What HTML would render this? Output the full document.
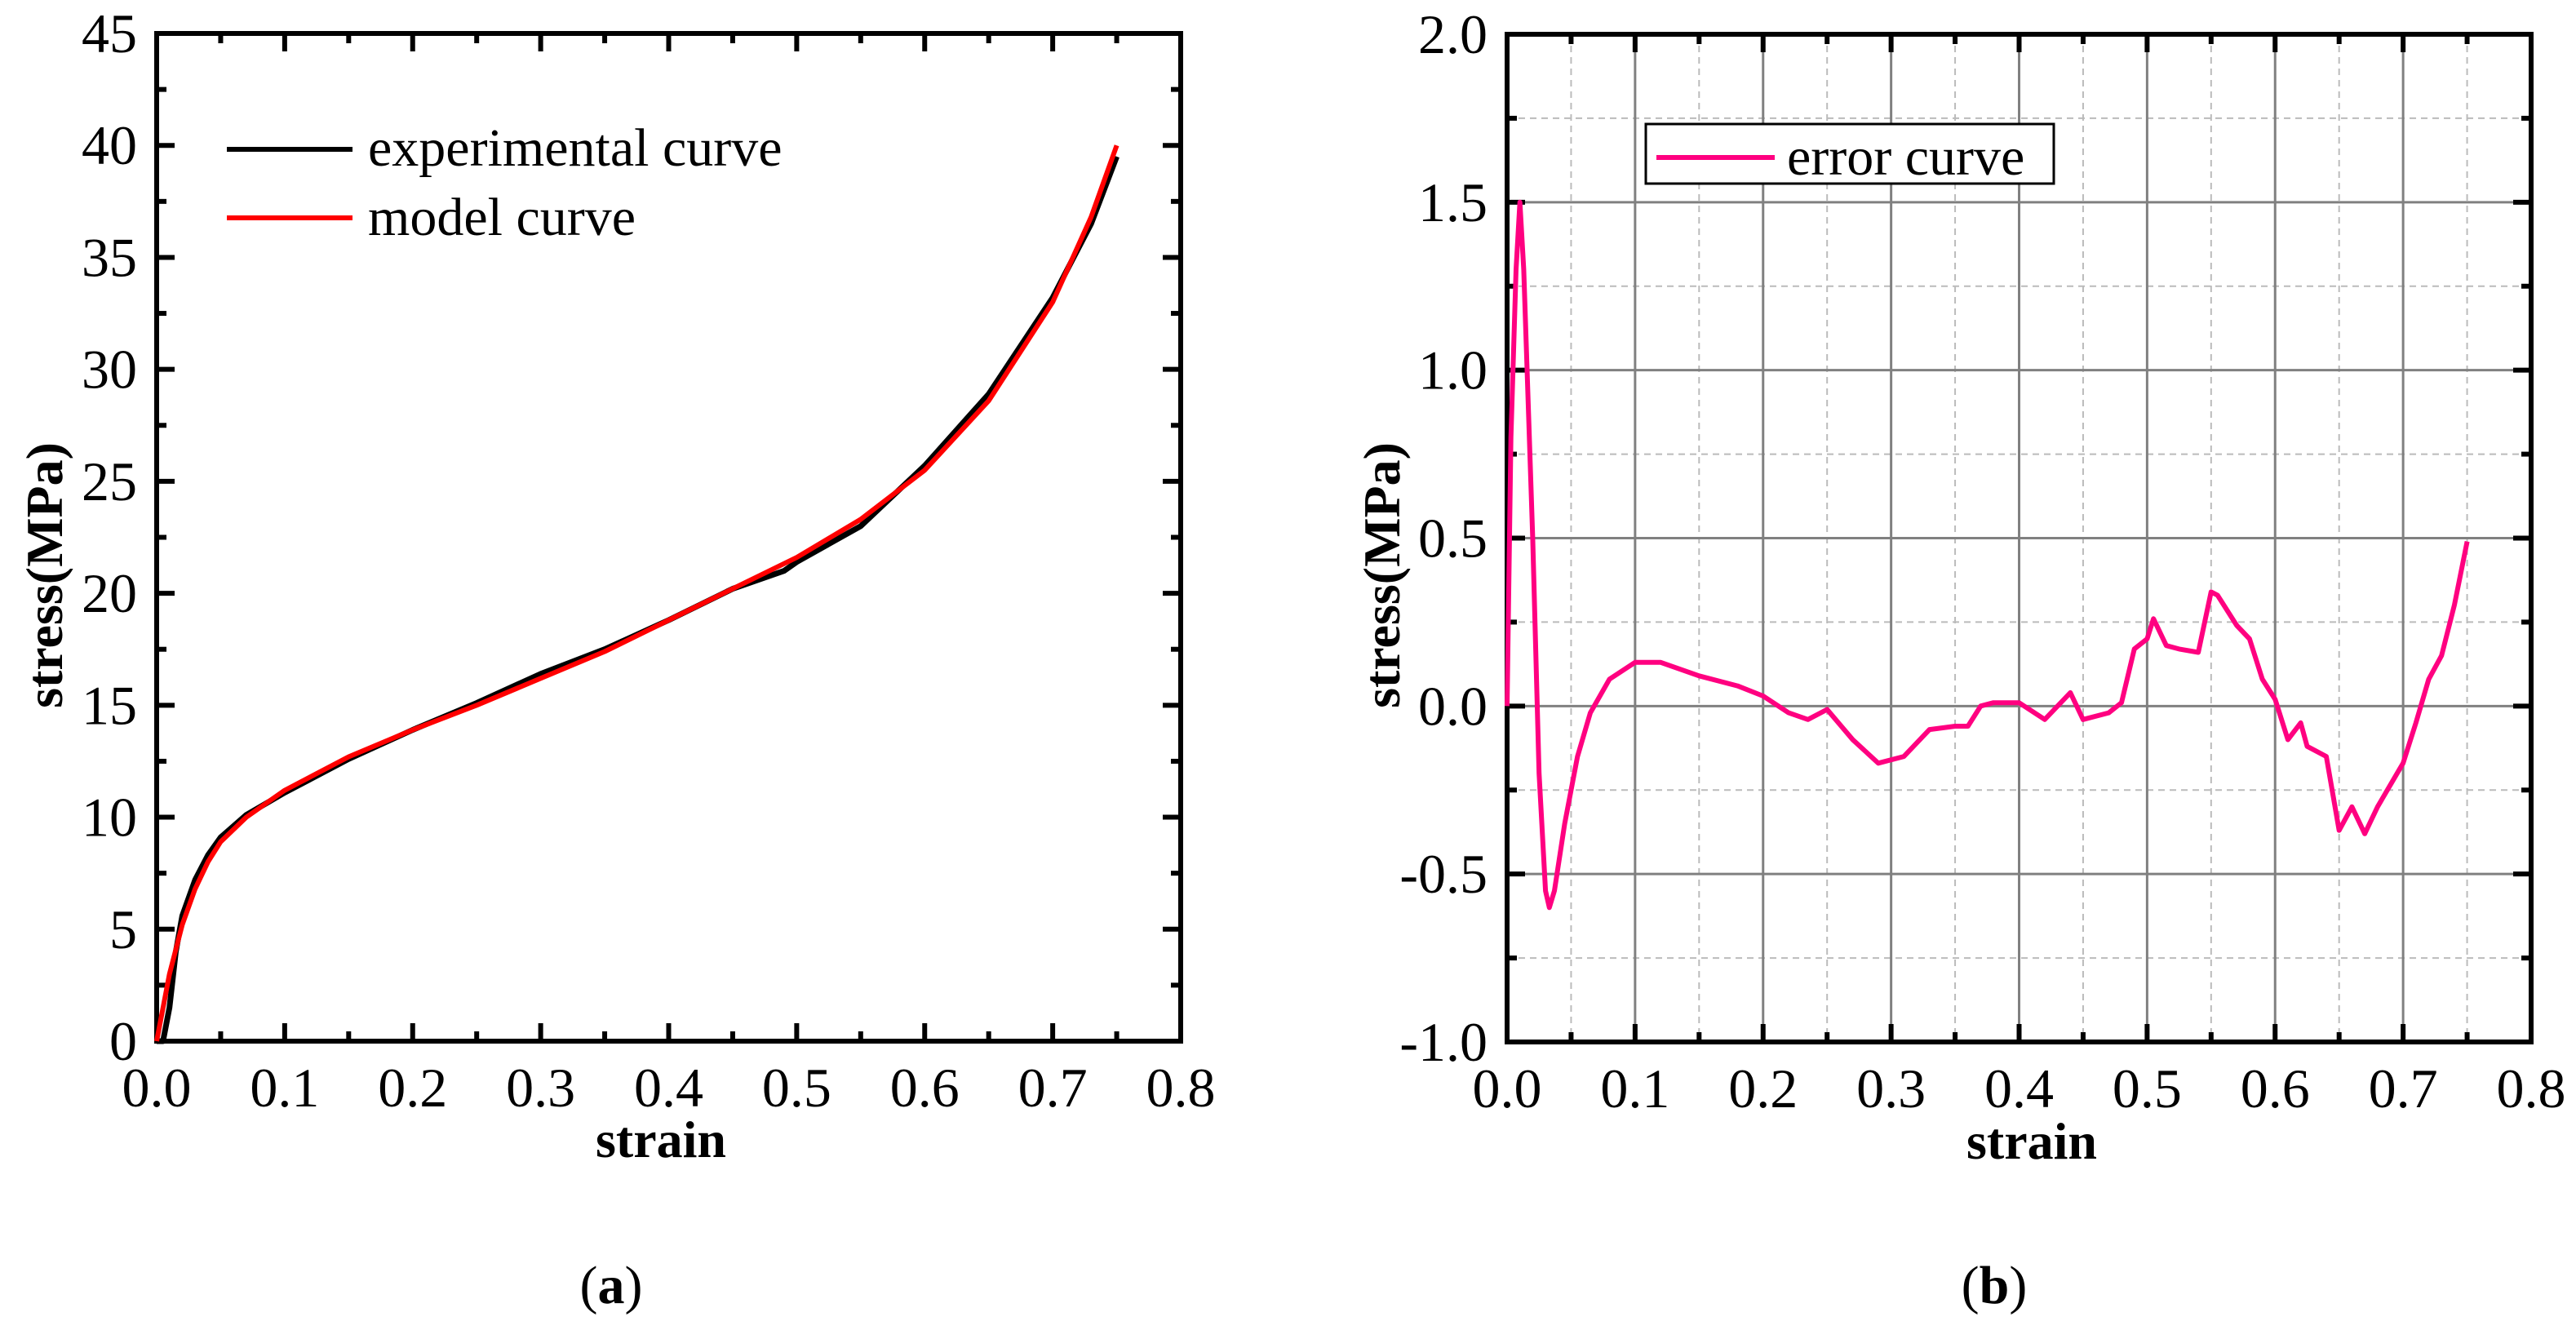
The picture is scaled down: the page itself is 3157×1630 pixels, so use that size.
<!DOCTYPE html>
<html><head><meta charset="utf-8"><style>
html,body{margin:0;padding:0;background:#fff;}
svg{display:block;}
text{font-family:"Liberation Serif","DejaVu Serif",serif;}
</style></head><body>
<svg id="fig" width="3157" height="1630" viewBox="0 0 3157 1630" xmlns="http://www.w3.org/2000/svg" font-family="Liberation Serif, serif">
<g id="pa"></g>
<g id="pb"></g>
<text x="749" y="1597" font-size="66" text-anchor="middle" font-family="Liberation Serif, serif">(<tspan font-weight="bold">a</tspan>)</text>
<text x="2444" y="1597" font-size="66" text-anchor="middle" font-family="Liberation Serif, serif">(<tspan font-weight="bold">b</tspan>)</text>
<g font-family="Liberation Serif, serif">
<text x="810" y="1418" font-size="64" font-weight="bold" text-anchor="middle">strain</text>
<text transform="translate(76,705) rotate(-90)" font-size="64" font-weight="bold" text-anchor="middle">stress(MPa)</text>
<text x="2490" y="1420" font-size="64" font-weight="bold" text-anchor="middle">strain</text>
<text transform="translate(1715,705) rotate(-90)" font-size="64" font-weight="bold" text-anchor="middle">stress(MPa)</text>
<g>
<line x1="278" y1="183" x2="432" y2="183" stroke="#000" stroke-width="6"/>
<text x="451" y="203" font-size="66">experimental curve</text>
<line x1="278" y1="267" x2="432" y2="267" stroke="#ff0000" stroke-width="6"/>
<text x="451" y="288" font-size="66">model curve</text>
</g>
<g>
<rect x="2017" y="152" width="500" height="73" fill="#fff" stroke="#000" stroke-width="3"/>
<line x1="2030" y1="193" x2="2175" y2="193" stroke="#ff0080" stroke-width="6"/>
<text x="2190" y="214" font-size="66">error curve</text>
</g>
</g>
</svg>
<script>
const expStrain=[0,0.005,0.01,0.015,0.02,0.03,0.04,0.05,0.07,0.1,0.15,0.2,0.25,0.3,0.35,0.4,0.45,0.49,0.5,0.55,0.6,0.65,0.7,0.73,0.75];
const expStress=[0,0,1.5,4,5.6,7.2,8.3,9.1,10.1,11.1,12.6,13.9,15.1,16.4,17.5,18.8,20.2,21.0,21.4,23.0,25.7,28.9,33.2,36.5,39.5];
const modStrain=[0,0.01,0.02,0.03,0.04,0.05,0.07,0.1,0.15,0.2,0.25,0.3,0.35,0.4,0.45,0.5,0.55,0.6,0.65,0.7,0.73,0.75];
const modStress=[0,3,5.2,6.8,8,8.9,10,11.2,12.7,13.9,15,16.2,17.4,18.8,20.2,21.6,23.3,25.5,28.6,33,36.8,40];
const errStrain=[0,0.003,0.007,0.01,0.013,0.02,0.025,0.03,0.033,0.037,0.045,0.055,0.065,0.08,0.1,0.12,0.15,0.18,0.2,0.22,0.235,0.25,0.27,0.29,0.31,0.33,0.35,0.36,0.37,0.38,0.4,0.42,0.44,0.45,0.47,0.48,0.49,0.5,0.505,0.515,0.525,0.54,0.55,0.555,0.57,0.58,0.59,0.6,0.61,0.62,0.625,0.64,0.65,0.66,0.67,0.68,0.7,0.71,0.72,0.73,0.74,0.75];
const errStress=[0,0.8,1.3,1.5,1.3,0.5,-0.2,-0.55,-0.6,-0.55,-0.35,-0.15,-0.02,0.08,0.13,0.13,0.09,0.06,0.03,-0.02,-0.04,-0.01,-0.1,-0.17,-0.15,-0.07,-0.06,-0.06,0,0.01,0.01,-0.04,0.04,-0.04,-0.02,0.01,0.17,0.2,0.26,0.18,0.17,0.16,0.34,0.33,0.24,0.2,0.08,0.02,-0.1,-0.05,-0.12,-0.15,-0.37,-0.3,-0.38,-0.3,-0.17,-0.05,0.08,0.15,0.3,0.49];
const xTicks=["0.0","0.1","0.2","0.3","0.4","0.5","0.6","0.7","0.8"];
const yTicksA=["0","5","10","15","20","25","30","35","40","45"];
const yTicksB=["-1.0","-0.5","0.0","0.5","1.0","1.5","2.0"];
const NS="http://www.w3.org/2000/svg";
function mk(p,t,a){const e=document.createElementNS(NS,t);for(const k in a)e.setAttribute(k,a[k]);p.appendChild(e);return e;}
function panel(g,L,R,T,B,ymin,ymax,yT,ymStep,grid){
  const sx=v=>L+(v-0)/(0.8)*(R-L), sy=v=>B-(v-ymin)/(ymax-ymin)*(B-T);
  if(grid){
    for(let v=0.05;v<0.8;v+=0.1){const l=mk(g,'line',{x1:sx(v),x2:sx(v),y1:T,y2:B,stroke:'#bbb','stroke-width':2,'stroke-dasharray':'8,6'});}
    for(let v=ymin+ymStep;v<ymax;v+=2*ymStep){const l=mk(g,'line',{x1:L,x2:R,y1:sy(v),y2:sy(v),stroke:'#bbb','stroke-width':2,'stroke-dasharray':'8,6'});}
    for(let i=1;i<8;i++){const l=mk(g,'line',{x1:sx(i/10),x2:sx(i/10),y1:T,y2:B,stroke:'#808080','stroke-width':3});}
    for(let i=1;i<yT.length-1;i++){const v=parseFloat(yT[i]);const l=mk(g,'line',{x1:L,x2:R,y1:sy(v),y2:sy(v),stroke:'#808080','stroke-width':3});}
  }
  for(let i=0;i<xTicks.length;i++){const x=sx(parseFloat(xTicks[i]));
    mk(g,'line',{x1:x,x2:x,y1:B,y2:B-22,stroke:'#000','stroke-width':6});
    mk(g,'line',{x1:x,x2:x,y1:T,y2:T+22,stroke:'#000','stroke-width':6});
    if(i<8){const xm=sx(parseFloat(xTicks[i])+0.05);mk(g,'line',{x1:xm,x2:xm,y1:B,y2:B-12,stroke:'#000','stroke-width':6});mk(g,'line',{x1:xm,x2:xm,y1:T,y2:T+12,stroke:'#000','stroke-width':6});}
    const t=mk(g,'text',{x:x,y:B+80,'font-size':68,'text-anchor':'middle','font-family':'Liberation Serif, serif'});t.textContent=xTicks[i];
    
    
  }
  for(let i=0;i<yT.length;i++){const v=parseFloat(yT[i]);const y=sy(v);
    mk(g,'line',{x1:L,x2:L+22,y1:y,y2:y,stroke:'#000','stroke-width':6});
    mk(g,'line',{x1:R,x2:R-22,y1:y,y2:y,stroke:'#000','stroke-width':6});
    if(i<yT.length-1){const ym=sy(v+ymStep);mk(g,'line',{x1:L,x2:L+12,y1:ym,y2:ym,stroke:'#000','stroke-width':6});mk(g,'line',{x1:R,x2:R-12,y1:ym,y2:ym,stroke:'#000','stroke-width':6});}
    const t=mk(g,'text',{x:L-24,y:y+23,'font-size':68,'text-anchor':'end','font-family':'Liberation Serif, serif'});t.textContent=yT[i];
    
    
  }
  const f=mk(g,'rect',{x:L,y:T,width:R-L,height:B-T,fill:'none',stroke:'#000','stroke-width':6});
  
  
  return {sx,sy};
}
function line(g,ax,xs,ys,col,w,name){
  const d=xs.map((x,i)=>(i?'L':'M')+ax.sx(x).toFixed(1)+','+ax.sy(ys[i]).toFixed(1)).join(' ');
  const p=mk(g,'path',{d:d,fill:'none',stroke:col,'stroke-width':w,'stroke-linejoin':'round'});
  
  
}
const ga=document.getElementById('pa'), gb=document.getElementById('pb');
const A=panel(ga,192,1447,41,1276,0,45,yTicksA,2.5,false);
line(ga,A,expStrain,expStress,'#000',7,'experimental-curve');
line(ga,A,modStrain,modStress,'#ff0000',6,'model-curve');
const B=panel(gb,1847,3102,42,1277,-1,2,yTicksB,0.25,true);
line(gb,B,errStrain,errStress,'#ff0080',6,'error-curve');
</script>
</body></html>
